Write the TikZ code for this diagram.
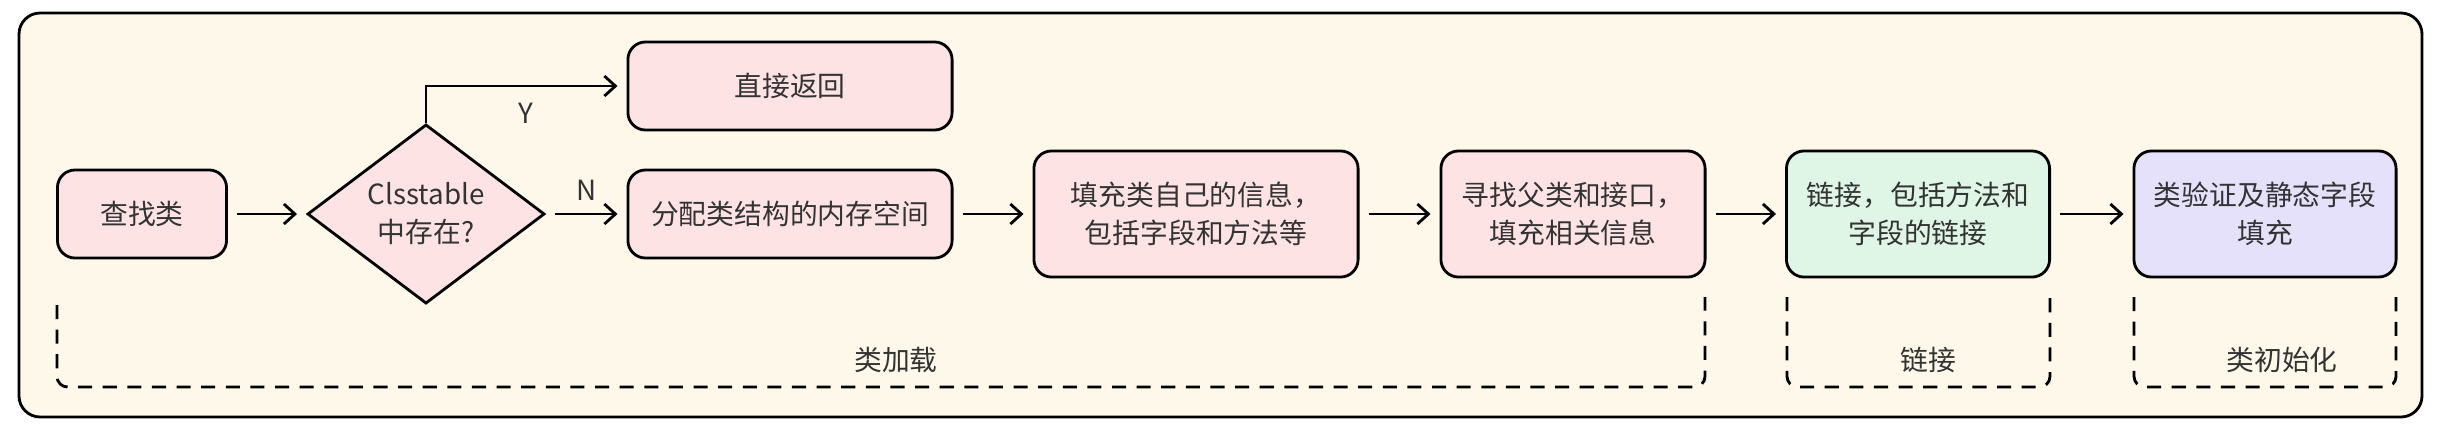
\documentclass[tikz,border=0pt]{standalone}
\usepackage{fontspec}
\setmainfont{Noto Sans CJK SC}
\usetikzlibrary{shapes.geometric,arrows.meta}

\definecolor{panelbg}{HTML}{FDF8EA}
\definecolor{pinkbox}{HTML}{FDE3E4}
\definecolor{greenbox}{HTML}{DFF5E5}
\definecolor{purplebox}{HTML}{E5E1FB}
\definecolor{textgray}{HTML}{333333}

\begin{document}
\begin{tikzpicture}[
		x=0.01cm, y=-0.01cm,
		every node/.style={font=\fontsize{7.9}{10.8}\selectfont, text=textgray},
		box/.style={
			draw, line width=0.8pt, rounded corners=5pt,
			minimum height=0.88cm, inner sep=0pt,
			align=center, fill=pinkbox,
		},
		decision/.style={
			diamond, draw, line width=0.8pt, fill=pinkbox,
			minimum width=2.37cm, minimum height=1.63cm, inner sep=0pt,
			align=center,
		},
		arrow/.style={-{Straight Barb[length=0.11cm, width=0.2cm]}, line width=0.8pt,
			shorten <=0.09cm, shorten >=0.09cm},
		bracket/.style={dashed, line width=0.8pt, dash pattern=on 4pt off 3pt, rounded corners=3pt},
		]
		
		\useasboundingbox (0,0) rectangle (2448,430);
		\draw[fill=panelbg, line width=0.8pt, rounded corners=6pt] (19,13) rectangle (2422,417);
		
		\node[box, minimum width=1.69cm]               (findclass) at (142, 214)  {查找类};
		\node[decision]                                (exists)    at (426, 214)  {Clsstable\\中存在?};
		\node[box, minimum width=3.24cm]               (direct)    at (790, 86)   {直接返回};
		\node[box, minimum width=3.24cm]               (alloc)     at (790, 214)  {分配类结构的内存空间};
		\node[box, minimum width=3.24cm, minimum height=1.26cm] (fillself) at (1196, 214) {填充类自己的信息，\\包括字段和方法等};
		\node[box, minimum width=2.64cm, minimum height=1.26cm] (parent)   at (1573, 214) {寻找父类和接口，\\填充相关信息};
		\node[box, minimum width=2.63cm, minimum height=1.26cm, fill=greenbox]  (linking) at (1918, 214) {链接，包括方法和\\字段的链接};
		\node[box, minimum width=2.62cm, minimum height=1.26cm, fill=purplebox] (verify)  at (2265, 214) {类验证及静态字段\\填充};
		
		\draw[arrow] (findclass) -- (exists);
		\draw[arrow, shorten <=0pt] (exists.north) |- node[pos=0.75, below=1pt]{Y} (direct.west);
		\draw[arrow] (exists)    -- node[above=0pt]{N} (alloc);
		\draw[arrow] (alloc)     -- (fillself);
		\draw[arrow] (fillself)  -- (parent);
		\draw[arrow] (parent)    -- (linking);
		\draw[arrow] (linking)   -- (verify);
		
		% stage brackets
		\draw[bracket] (57,305) -- (57,387) -- (1705,387) -- (1705,297);
		\draw[bracket] (1787,297) -- (1787,387) -- (2050,387) -- (2050,297);
		\draw[bracket] (2134,297) -- (2134,387) -- (2396,387) -- (2396,297);
		\node (loadlabel) at (896, 360)  {类加载};
		\node (linklabel) at (1928, 360) {链接};
		\node (initlabel) at (2282, 360) {类初始化};
		
	\end{tikzpicture}
\end{document}
